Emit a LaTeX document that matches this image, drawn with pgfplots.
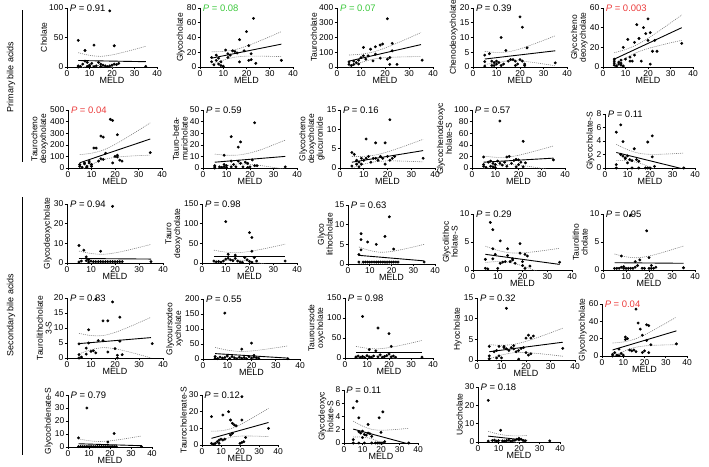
\documentclass[border=0pt]{standalone}
\usepackage{fontspec}
\setmainfont{Liberation Sans}
\usepackage{pgfplots}
\pgfplotsset{compat=1.18}
\definecolor{pgreen}{RGB}{60,200,60}
\definecolor{pred}{RGB}{235,60,60}
\tikzset{pv/.style={anchor=west, font=\fontsize{9.5}{10}\selectfont, inner sep=0pt}}
\pgfplotsset{
 panel/.style={
   scale only axis, anchor=south west,
   axis lines=left, axis line style={-, line width=0.7pt, black},
   xmin=0, xmax=40, ymin=0, xtick={0,10,20,30,40},
   tick align=outside, major tick length=2.5pt, minor tick num=0,
   tick style={black, line width=0.6pt},
   tick label style={font=\fontsize{8.5}{9}\selectfont, inner sep=1pt},
   /pgf/number format/assume math mode=true,
   xlabel={MELD},
   xlabel style={font=\fontsize{9}{9}\selectfont, at={(axis description cs:0.5,0)}, anchor=north, yshift=-10bp, inner sep=0pt},
   ylabel style={font=\fontsize{8.5}{8.8}\selectfont, align=center, inner sep=1pt},
   clip mode=individual,
 },
 pts/.style={only marks, mark=*, mark size=1.25pt, black},
 fit/.style={black, line width=0.9pt, no marks},
 ci/.style={gray, line width=0.6pt, dash pattern=on 1pt off 1pt, smooth, no marks},
}
\begin{document}
\begin{tikzpicture}
\useasboundingbox (0,0) rectangle (709bp,-467bp);
% group labels
\node[rotate=90, font=\fontsize{9}{10}\selectfont] at (11bp,-77bp) {Primary bile acids};
\draw[line width=1pt] (22bp,-10bp) -- (22bp,-162bp);
\node[rotate=90, font=\fontsize{9}{10}\selectfont] at (11bp,-315bp) {Secondary bile acids};
\draw[line width=1pt] (22bp,-197bp) -- (22bp,-455bp);

% ---------- Row 1 ----------
\begin{axis}[panel, at={(67bp,-67bp)}, width=90bp, height=59bp, ymax=100, ytick={0,50,100}, ylabel={Cholate}]
\addplot[ci] coordinates {(5,24.2)(10,19.8)(15,18.1)(20,20.5)(25,24.9)(30,29.8)(35,35.1)};
\addplot[ci] coordinates {(5,-2.2)(10,1.6)(15,2.5)(20,-0.5)(25,-5.5)(30,-11.2)(35,-17.1)};
\addplot[fit] coordinates {(5,11)(35,9)};
\addplot[pts] coordinates {(5,45)(5,2)(5,0)(6,1)(7,5)(8,28)(8,10)(9,8)(9,1)(10,3)(11,6)(12,37)(12,0.5)(13,2)(14,8)(15,5)(16,3)(17,2)(18,0.5)(19,95)(19,2)(20,3)(21,36)(21,5)(22,4)(23,6)(35,1)(10,0.5)(15,0.5)};
\node[pv] at (rel axis cs:0.03,1) {\textit{P} = 0.91};
\end{axis}

\begin{axis}[panel, at={(200bp,-67bp)}, width=93bp, height=59bp, ymax=80, ytick={0,20,40,60,80}, ylabel={Glycocholate}]
\addplot[ci] coordinates {(5,20.6)(10,21.1)(15,23.4)(20,28.3)(25,34.5)(30,41.1)(35,48.0)};
\addplot[ci] coordinates {(5,3.5)(10,9.3)(15,13.3)(20,14.7)(25,14.8)(30,14.5)(35,14.1)};
\addplot[fit] coordinates {(5,12)(35,31)};
\addplot[pts] coordinates {(5,13)(5,7)(6,3)(7,9)(7,16)(8,4)(8,12)(9,7)(9,2)(10,1)(11,23)(12,18)(13,16)(14,22)(15,21)(16,19)(17,37)(17,7)(19,22)(20,48)(21,29)(21,9)(22,10)(22,18)(23,66)(24,5)(35,9)(12,13)};
\node[pv, text=pgreen] at (rel axis cs:0.03,1) {\textit{P} = 0.08};
\end{axis}

\begin{axis}[panel, at={(337bp,-67bp)}, width=96bp, height=59bp, ymax=400, ytick={0,100,200,300,400}, ylabel={Taurocholate}]
\addplot[ci] coordinates {(5,81.0)(10,87.0)(15,101.5)(20,128.6)(25,162.0)(30,197.1)(35,233.4)};
\addplot[ci] coordinates {(5,-1.0)(10,30.4)(15,53.1)(20,63.4)(25,67.4)(30,69.5)(35,70.6)};
\addplot[fit] coordinates {(5,40)(35,152)};
\addplot[pts] coordinates {(5,18)(5,35)(6,10)(7,18)(8,30)(9,46)(10,64)(11,133)(11,76)(12,53)(13,76)(14,121)(15,41)(16,137)(16,87)(18,149)(18,60)(19,156)(21,327)(21,53)(22,64)(22,18)(23,160)(23,110)(25,18)(35.5,46)(7,40)(9,20)};
\node[pv, text=pgreen] at (rel axis cs:0.03,1) {\textit{P} = 0.07};
\end{axis}

\begin{axis}[panel, at={(473bp,-67bp)}, width=94bp, height=59bp, ymax=20, ytick={0,5,10,15,20}, ylabel={Chenodeoxycholate}]
\addplot[ci] coordinates {(5,5.27)(10,4.94)(15,5.15)(20,6.14)(25,7.53)(30,9.02)(35,10.59)};
\addplot[ci] coordinates {(5,0.9)(10,1.4)(15,2.11)(20,2.06)(25,1.61)(30,1.04)(35,0.41)};
\addplot[fit] coordinates {(5,2.7)(35,5.5)};
\addplot[pts] coordinates {(5,4)(5,1.8)(5,0.3)(7,4.5)(8,2)(8,0.5)(9,1.5)(9,0.5)(10,2)(10,1)(11,1.5)(12,10)(12,0.5)(13,1)(14,5.6)(15,2)(16,2.5)(17,2.5)(18,2)(18,0.5)(19,1)(20,17)(20,2.5)(21,13.5)(21,2)(22,1)(22,0.5)(23,6.5)(35,1.4)};
\node[pv] at (rel axis cs:0.03,1) {\textit{P} = 0.39};
\end{axis}

\begin{axis}[panel, at={(603bp,-67bp)}, width=90bp, height=59bp, ymax=60, ytick={0,20,40,60}, ylabel={Glycocheno\\deoxycholate}]
\addplot[ci] coordinates {(5,14.5)(10,17.8)(15,22.5)(20,29.2)(25,36.8)(30,44.8)(35,52.9)};
\addplot[ci] coordinates {(5,1.5)(10,8.9)(15,14.8)(20,18.8)(25,21.8)(30,24.6)(35,27.1)};
\addplot[fit] coordinates {(5,8)(35,40)};
\addplot[pts] coordinates {(5,2)(5,4)(5,6)(5,8)(6,1)(7,3)(7,5)(8,2)(8,4)(8,7)(9,20)(9,1)(10,8)(11,28)(12,10)(12,6)(13,6)(14,12)(14,25)(15,43)(16,29)(17,6)(18,40)(19,34)(20,49)(20,27)(21,35)(21,3)(22,16)(23,27)(24,16)(35,24)};
\node[pv, text=pred] at (rel axis cs:0.03,1) {\textit{P} = 0.003};
\end{axis}

% ---------- Row 2 ----------
\begin{axis}[panel, at={(68bp,-168bp)}, width=94bp, height=58bp, ymax=500, ytick={0,100,200,300,400,500}, ylabel={Taurocheno\\deoxyxholate}]
\addplot[ci] coordinates {(5,115.1)(10,127.6)(15,154.7)(20,203.3)(25,262.5)(30,324.9)(35,389)};
\addplot[ci] coordinates {(5,-25.1)(10,30.8)(15,71.9)(20,91.7)(25,100.9)(30,106.7)(35,111)};
\addplot[fit] coordinates {(5,45)(35,250)};
\addplot[pts] coordinates {(5,30)(5,15)(6,6)(7,44)(7,36)(8,15)(9,59)(9,44)(10,15)(11,172)(12,172)(13,60)(14,275)(14,80)(15,266)(15,74)(16,127)(18,420)(19,410)(19,44)(20,100)(21,110)(21,287)(21,95)(22,68)(23,59)(35,133)(8,5)(10,30)};
\node[pv, text=pred] at (rel axis cs:0.03,1) {\textit{P} = 0.04};
\end{axis}

\begin{axis}[panel, at={(203bp,-168bp)}, width=94bp, height=58bp, ymax=50, ytick={0,10,20,30,40,50}, ylabel={Tauro-beta-\\muricholate}]
\addplot[ci] coordinates {(5,12)(10,11)(15,11.2)(20,13)(25,16)(30,20)(35,24)};
\addplot[ci] coordinates {(5,-1)(10,2)(15,3.5)(20,3)(25,2)(30,0.5)(35,-1)};
\addplot[fit] coordinates {(5,5)(35,10)};
\addplot[pts] coordinates {(5,1)(5,2)(5,0)(7,1)(8,0.5)(9,11)(9,1)(9,3)(10,2)(10,0.5)(12,27)(12,1)(12,6)(13,3)(15,18)(14,1)(16,22.5)(15,6)(16,4)(17,1)(18,5)(19,4)(19,0.5)(20,1)(22,39)(21,7)(22,2)(23,2)(35,1)};
\node[pv] at (rel axis cs:0.03,1) {\textit{P} = 0.59};
\end{axis}

\begin{axis}[panel, at={(340bp,-168bp)}, width=95bp, height=58bp, ymax=15, ytick={0,5,10,15}, ylabel={Glycocheno\\deoxycholate\\glucuronide}]
\addplot[ci] coordinates {(5,2.97)(10,3.01)(15,3.37)(20,4.17)(25,5.19)(30,6.29)(35,7.42)};
\addplot[ci] coordinates {(5,0.03)(10,0.99)(15,1.63)(20,1.83)(25,1.81)(30,1.71)(35,1.58)};
\addplot[fit] coordinates {(5,1.5)(35,4.5)};
\addplot[pts] coordinates {(5,4)(5,0.5)(6,3.5)(7,1)(7,2)(8,1.5)(8,0.3)(9,2.5)(9,1)(10,2)(11,7.5)(11,2.5)(12,3)(13,1.5)(14,2.5)(15,6.5)(15,2.5)(16,2)(17,3)(18,2.5)(19,6.5)(19,1)(20,3)(21,12.5)(21,2)(22,2.5)(23,3)(35,2.5)};
\node[pv] at (rel axis cs:0.03,1) {\textit{P} = 0.16};
\end{axis}

\begin{axis}[panel, at={(472bp,-168bp)}, width=93bp, height=58bp, ymax=100, ytick={0,20,40,60,80,100}, ylabel={Glycochenodeoxyc\\holate-S}]
\addplot[ci] coordinates {(5,20.6)(10,18.5)(15,18.6)(20,21.9)(25,26.9)(30,32.3)(35,38.0)};
\addplot[ci] coordinates {(5,-0.6)(10,3.9)(15,6.0)(20,5.1)(25,2.5)(30,-0.7)(35,-4.0)};
\addplot[fit] coordinates {(5,10)(35,17)};
\addplot[pts] coordinates {(5,19)(5,3)(5,6)(6,1)(7,10)(8,12)(8,3)(9,8)(9,2)(10,6)(10,1)(11,12)(12,81)(12,8)(13,5)(14,10)(15,19)(15,3)(16,20)(17,8)(18,13)(19,15)(19,2)(20,14)(20,6)(21,10)(22,46)(22,2)(23,9)(35,14)};
\node[pv] at (rel axis cs:0.03,1) {\textit{P} = 0.57};
\end{axis}

\begin{axis}[panel, at={(605bp,-168bp)}, width=90bp, height=54bp, ymax=8, ytick={0,2,4,6,8}, ylabel={Glycocholate-S}]
\addplot[ci] coordinates {(5,3.5)(10,2.72)(15,2.19)(20,2.02)(25,2.04)(30,2.11)(35,2.21)};
\addplot[ci] coordinates {(5,1.1)(10,1.06)(15,0.77)(20,0.12)(25,-0.72)(30,-1.61)(35,-2.53)};
\addplot[fit] coordinates {(5,2.3)(35,-0.16)};
\addplot[pts] coordinates {(5,5.3)(5,0.5)(5,0)(7,6.4)(7,2)(8,3.9)(8,1.75)(9,1.4)(9,1.5)(10,0.75)(11,1.25)(12,1.1)(12,0)(13,2.85)(14,1.25)(15,1)(15,0)(18,0)(19,3.85)(19,0)(20,0)(21,1.65)(21,4.75)(22,0.25)(35,0)(10,1.8)};
\node[pv] at (rel axis cs:0.03,1) {\textit{P} = 0.11};
\end{axis}

% ---------- Row 3 ----------
\begin{axis}[panel, at={(67bp,-263bp)}, width=96bp, height=59bp, ymax=30, ytick={0,10,20,30}, ylabel={Glycodeoxycholate}]
\addplot[ci] coordinates {(5,6.06)(10,4.85)(15,4.42)(20,5.14)(25,6.43)(30,7.9)(35,9.46)};
\addplot[fit] coordinates {(5,2.3)(35,2.0)};
\addplot[pts] coordinates {(5,8.9)(5,0.5)(6,1)(7,6.5)(8,3.1)(8,1.2)(9,1.7)(9,0.5)(10,1)(11,0.7)(12,0.7)(13,0.7)(14,6)(14,0.7)(15,0.7)(16,0.7)(17,0.7)(18,0.7)(19,28.8)(19,0.7)(20,0.7)(21,0.7)(22,0.7)(23,0.7)(35,0.7)};
\node[pv] at (rel axis cs:0.03,1) {\textit{P} = 0.94};
\end{axis}

\begin{axis}[panel, at={(202bp,-263bp)}, width=95bp, height=59bp, ymax=150, ytick={0,50,100,150}, ylabel={Tauro\\deoxycholate}]
\addplot[ci] coordinates {(5,32.6)(10,27.7)(15,26.2)(20,29.4)(25,34.9)(30,41.2)(35,47.8)};
\addplot[ci] coordinates {(5,1.4)(10,6.3)(15,7.8)(20,4.6)(25,-0.9)(30,-7.2)(35,-13.8)};
\addplot[fit] coordinates {(5,17)(35,17)};
\addplot[pts] coordinates {(5,5)(6,3)(7,4)(8,2)(10,105)(9,5)(10,10)(11,12)(11,22)(12,8)(13,6)(14,20)(14,12)(20,77)(15,5)(16,3)(17,2)(18,14)(19,8)(21,65)(20,4)(21,2)(21,30)(22,14)(23,5)(35,5)};
\node[pv] at (rel axis cs:0.03,1) {\textit{P} = 0.98};
\end{axis}

\begin{axis}[panel, at={(348bp,-264bp)}, width=87bp, height=59bp, ymax=15, ytick={0,5,10,15}, ylabel={Glyco\\lithocholate}]
\addplot[ci] coordinates {(5,4.32)(10,3.43)(15,2.98)(20,3.19)(25,3.71)(30,4.33)(35,5.0)};
\addplot[ci] coordinates {(5,0.08)(10,0.51)(15,0.48)(20,-0.19)(25,-1.2)(30,-2.3)(35,-3.4)};
\addplot[fit] coordinates {(5,2.2)(35,0.8)};
\addplot[pts] coordinates {(5,2.4)(5,0.5)(6,7.7)(6,6.2)(6,3.6)(7,0.5)(8,0.5)(9,5.6)(9,0.5)(10,0.5)(11,0.5)(12,0.5)(13,5)(13,0.5)(14,0.5)(15,0.5)(16,0.5)(17,7)(17,0.5)(18,0.5)(19,12)(19,0.5)(20,0.5)(21,3.8)(21,0.5)(22,0.5)(23,0.5)(35,0.5)};
\node[pv] at (rel axis cs:0.03,1) {\textit{P} = 0.63};
\end{axis}

\begin{axis}[panel, at={(473bp,-270bp)}, width=99bp, height=56bp, ymax=10, ytick={0,5,10}, ylabel={Glycolithoc\\holate-S}]
\addplot[ci] coordinates {(5,4.25)(10,3.5)(15,3.06)(20,3.06)(25,3.27)(30,3.56)(35,3.88)};
\addplot[ci] coordinates {(5,1.35)(10,1.5)(15,1.34)(20,0.74)(25,-0.07)(30,-0.96)(35,-1.88)};
\addplot[fit] coordinates {(5,2.8)(35,1.0)};
\addplot[pts] coordinates {(5,1.9)(5,0.3)(6,0.2)(7,8.5)(8,7.2)(8,2)(8,3.8)(9,2.8)(10,0.3)(11,1.2)(11,5.2)(12,1.4)(13,1.5)(14,3.8)(14,2.6)(15,1.5)(16,2)(16,1.8)(17,1.2)(19,3)(19,4.7)(20,0.8)(20,1.5)(21,0.3)(21,2.8)(22,2.5)(23,0.7)(35,1.4)};
\node[pv] at (rel axis cs:0.03,1) {\textit{P} = 0.29};
\end{axis}

\begin{axis}[panel, at={(603bp,-270bp)}, width=92bp, height=56bp, ymax=10, ytick={0,5,10}, ylabel={Taurolitho\\cholate}]
\addplot[ci] coordinates {(5,2.86)(10,2.35)(15,2.19)(20,2.49)(25,3.02)(30,3.64)(35,4.28)};
\addplot[fit] coordinates {(5,1.3)(35,1.2)};
\addplot[pts] coordinates {(5,0.3)(6,0.3)(7,0.3)(8,2.5)(8,0.5)(9,0.3)(9,0.6)(10,0.3)(11,0.3)(12,9.8)(12,0.3)(13,0.3)(14,0.5)(14,1.5)(15,0.8)(16,1.8)(17,0.3)(18,0.3)(19,7)(20,2.2)(20,0.3)(21,0.8)(21,0.3)(22,0.3)(23,0.5)(35,0.4)};
\node[pv] at (rel axis cs:0.03,1) {\textit{P} = 0.95};
\end{axis}

% ---------- Row 4 ----------
\begin{axis}[panel, at={(67bp,-358bp)}, width=96bp, height=60bp, ymax=20, ytick={0,5,10,15,20}, ylabel={Taurolithocholate\\3-S}]
\addplot[ci] coordinates {(5,8.22)(10,7.49)(15,7.49)(20,8.52)(25,10.07)(30,11.79)(35,13.58)};
\addplot[ci] coordinates {(5,1.38)(10,2.77)(15,3.45)(20,3.08)(25,2.19)(30,1.15)(35,0.02)};
\addplot[fit] coordinates {(5,4.8)(35,6.8)};
\addplot[pts] coordinates {(5,4.7)(5,1.1)(5,0)(6,0.3)(8,1.3)(8,3.3)(9,9.4)(9,5)(10,2.2)(11,2.4)(12,1.7)(13,5.8)(15,12.4)(15,5.8)(17,12.4)(17,2)(19,18.7)(20,3.1)(21,0)(21,0.9)(22,13.6)(22,5.6)(23,1.1)(35.5,4.8)};
\node[pv] at (rel axis cs:0.03,1) {\textit{P} = 0.83};
\addplot[pts] coordinates {(12,19.6)};
\end{axis}

\begin{axis}[panel, at={(203bp,-359bp)}, width=97bp, height=60bp, ymax=200, ytick={0,50,100,150,200}, ylabel={Glycoursodeo\\xycholate}]
\addplot[ci] coordinates {(5,38.5)(10,29.7)(15,25.1)(20,26.8)(25,31.6)(30,37.4)(35,43.7)};
\addplot[fit] coordinates {(5,18)(35,3)};
\addplot[pts] coordinates {(5,2)(5,8)(6,1)(7,6)(8,3)(9,153)(9,5)(10,10)(11,2)(12,8)(13,4)(14,1)(15,6)(16,33)(16,2)(17,5)(18,1)(19,8)(20,53)(20,3)(21,12)(21,6)(22,4)(23,2)(35,1)};
\node[pv] at (rel axis cs:0.03,1) {\textit{P} = 0.55};
\end{axis}

\begin{axis}[panel, at={(345bp,-358bp)}, width=88bp, height=60bp, ymax=150, ytick={0,50,100,150}, ylabel={Tauroursode\\oxycholate}]
\addplot[ci] coordinates {(5,29.0)(10,24.4)(15,22.9)(20,26.0)(25,31.3)(30,37.4)(35,43.8)};
\addplot[ci] coordinates {(5,-1)(10,3.6)(15,5.1)(20,2)(25,-3.3)(30,-9.4)(35,-15.8)};
\addplot[fit] coordinates {(5,14)(35,14)};
\addplot[pts] coordinates {(5,3)(5,1)(6,5)(7,2)(8,104)(8,4)(9,1)(10,6)(11,21)(11,3)(12,2)(13,5)(14,18)(15,75)(15,3)(16,8)(17,2)(18,4)(19,6)(20,61)(20,10)(21,29)(21,3)(22,5)(23,2)(35,2)};
\node[pv] at (rel axis cs:0.03,1) {\textit{P} = 0.98};
\end{axis}

\begin{axis}[panel, at={(477bp,-360bp)}, width=98bp, height=62bp, ymax=15, ytick={0,5,10,15}, ylabel={Hyocholate}]
\addplot[ci] coordinates {(5,3.71)(10,3.56)(15,3.78)(20,4.51)(25,5.5)(30,6.58)(35,7.69)};
\addplot[ci] coordinates {(5,0.29)(10,1.2)(15,1.76)(20,1.79)(25,1.56)(30,1.26)(35,0.91)};
\addplot[fit] coordinates {(5,2.0)(35,4.3)};
\addplot[pts] coordinates {(5,3.3)(5,1)(5,0.3)(7,2)(8,2.3)(8,0.5)(9,3.3)(9,1)(10,0.5)(11,3.3)(11,3.0)(12,12.5)(12,2.7)(13,2.3)(14,3)(15,3.5)(15,2.7)(16,2)(17,2.3)(17,0.2)(18,2.8)(19,3)(20,5.3)(20,1.8)(21,6)(21,1.2)(22,5.3)(22,1.5)(23,5.8)(35,2.8)};
\node[pv] at (rel axis cs:0.03,1) {\textit{P} = 0.32};
\end{axis}

\begin{axis}[panel, at={(602bp,-356bp)}, width=85bp, height=52bp, ymax=60, ytick={0,20,40,60}, ylabel={Glycohyocholate}]
\addplot[ci] coordinates {(5,15.0)(10,16.2)(15,19.1)(20,24.4)(25,30.9)(30,37.8)(35,44.9)};
\addplot[ci] coordinates {(5,-1.0)(10,5.1)(15,9.6)(20,11.6)(25,12.4)(30,12.8)(35,13.1)};
\addplot[fit] coordinates {(5,7)(35,29)};
\addplot[pts] coordinates {(5,2)(5,0)(6,4)(7,1)(8,8)(8,0.5)(9,3)(10,1)(11,22)(11,19)(12,20)(13,7)(14,6)(15,7)(16,54)(16,5)(17,38)(18,31)(19,24)(19,4)(20,6)(21,36)(21,18)(22,35)(22,4)(23,13)(35,14)};
\node[pv, text=pred] at (rel axis cs:0.03,1) {\textit{P} = 0.04};
\end{axis}

% ---------- Row 5 ----------
\begin{axis}[panel, at={(68bp,-447bp)}, width=84bp, height=52bp, ymax=40, ytick={0,10,20,30,40}, ylabel={Glycocholenate-S}]
\addplot[ci] coordinates {(5,6.26)(10,4.85)(15,4.22)(20,4.74)(25,5.83)(30,7.1)(35,8.46)};
\addplot[fit] coordinates {(5,2.5)(35,1.0)};
\addplot[pts] coordinates {(5,7)(5,0.3)(6,0.3)(7,0.3)(8,0.3)(9,30)(9,0.3)(10,0.3)(11,0.3)(12,0.3)(13,0.3)(14,0.3)(15,0.3)(16,0.3)(17,0.3)(18,0.3)(19,3.8)(19,0.3)(20,0.3)(21,0.3)(22,10.4)(22,0.3)(23,0.3)(35,0.3)};
\node[pv] at (rel axis cs:0.03,1) {\textit{P} = 0.79};
\end{axis}

\begin{axis}[panel, at={(202bp,-445bp)}, width=76bp, height=50bp, ymax=30, ytick={0,10,20,30}, ylabel={Taurocholenate-S}]
\addplot[ci] coordinates {(5,8.28)(10,8.53)(15,9.7)(20,12.15)(25,15.26)(30,18.57)(35,21.98)};
\addplot[ci] coordinates {(5,-0.28)(10,2.63)(15,4.64)(20,5.35)(25,5.4)(30,5.27)(35,5.02)};
\addplot[fit] coordinates {(5,4)(35,13.5)};
\addplot[pts] coordinates {(5,17)(5,1)(6,0.5)(7,1)(8,2)(9,3)(9,1)(10,3.5)(11,18)(11,3)(12,3.5)(14,20)(15,15)(15,6)(16,13)(16,7)(17,12)(18,11.5)(20,1)(21,29)(21,1.5)(21,15)(22,2)(23,4.5)(35,10)};
\node[pv] at (rel axis cs:0.03,1) {\textit{P} = 0.12};
\end{axis}

\begin{axis}[panel, at={(344bp,-443bp)}, width=74bp, height=53bp, ymax=8, ytick={0,2,4,6,8}, ylabel={Glycodeoxyc\\holate-S}]
\addplot[ci] coordinates {(5,3.3)(10,2.56)(15,2.06)(20,1.93)(25,1.98)(30,2.09)(35,2.22)};
\addplot[ci] coordinates {(5,0.9)(10,0.9)(15,0.64)(20,0.03)(25,-0.78)(30,-1.63)(35,-2.52)};
\addplot[fit] coordinates {(5,2.1)(35,-0.15)};
\addplot[pts] coordinates {(5,5.3)(5,0.5)(5,0)(7,6.3)(8,3.8)(8,1.7)(9,1.5)(10,1.8)(10,0.8)(11,1.3)(12,1.2)(13,2.8)(13,1.5)(14,1.4)(15,1.0)(15,0)(17,0)(18,0)(19,3.8)(19,0)(20,0)(20,1.6)(21,4.7)(21,0)(22,0.2)(35,0)(11,0)(8,0)};
\node[pv] at (rel axis cs:0.03,1) {\textit{P} = 0.11};
\end{axis}

\begin{axis}[panel, at={(478bp,-442bp)}, width=82bp, height=55bp, ymax=30, ytick={0,10,20,30}, ylabel={Usocholate}]
\addplot[ci] coordinates {(5,5.8)(10,4.3)(15,3.5)(20,3.3)(24,3.6)};
\addplot[ci] coordinates {(5,0.6)(10,1.0)(15,0.6)(20,-0.5)(24,-1.8)};
\addplot[fit] coordinates {(5,3.2)(24,0.9)};
\addplot[pts] coordinates {(5,22.7)(5,0.5)(7,0.8)(8,1)(9,0.5)(10,0.8)(11,6.4)(12,0.6)(13,0.5)(14,0.8)(15,1)(16,0.5)(17,0.8)(18,1)(19,1.5)(20,2)(20,1.2)(21,1.5)(22,0.8)(23,0.6)(35,0.6)};
\node[pv] at (rel axis cs:0.03,1) {\textit{P} = 0.18};
\end{axis}
\end{tikzpicture}
\end{document}
